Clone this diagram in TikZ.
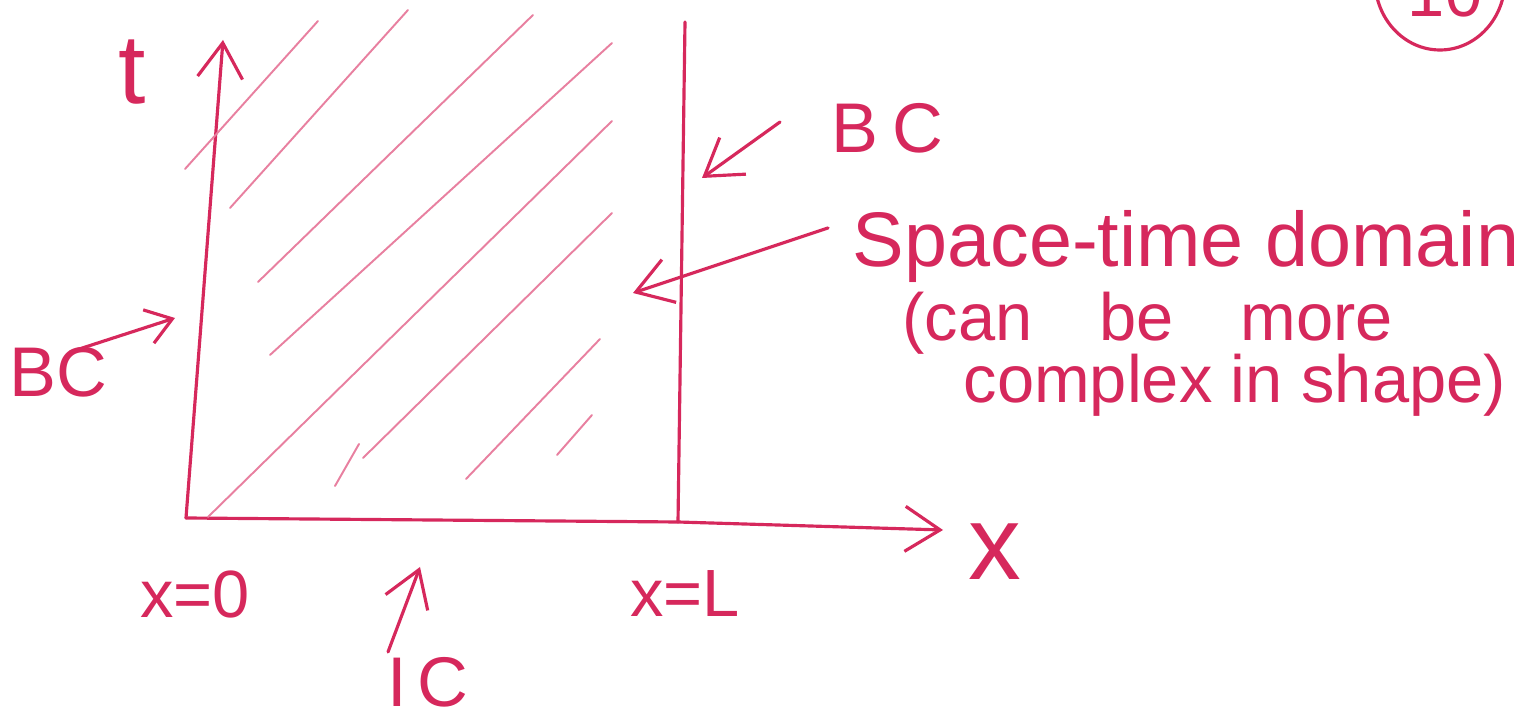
\documentclass[tikz,border=0pt]{standalone}
\usepackage{fontspec}
\setmainfont{Liberation Sans}
\usetikzlibrary{arrows.meta, positioning}
\definecolor{InkRed}{RGB}{214, 40, 92}
\definecolor{InkPink}{RGB}{232, 128, 160}

\begin{document}
\begin{tikzpicture}[x=0.01cm,y=-0.01cm,
	ink/.style={draw=InkRed,line width=0.9pt,line cap=round},
	hatch/.style={draw=InkPink,line width=0.55pt,line cap=round},
	barb/.style={-{Straight Barb[length=3.5mm,width=4.5mm]}},
	lbl/.style={text=InkRed,inner sep=0pt,font=\fontsize{19}{21}\selectfont},
	note/.style={lbl,anchor=base west}]
\useasboundingbox (0,0) rectangle (1536,722);
% axes and boundaries
\coordinate (O) at (186,518);
\coordinate (T) at (223,40);
\coordinate (X) at (943,530);
\coordinate (Ltop) at (685,22);
\coordinate (Lbot) at (678,522);
\draw[ink,barb] (O) -- (Lbot) -- (X);
\draw[ink,barb] (O) -- (T);
\draw[ink] (Ltop) -- (Lbot);
% hatching of the domain
\foreach \xa/\ya/\xb/\yb in {185/169/318/21,230/208/408/10,258/282/533/15,
	270/355/612/43,208/517/612/121,335/486/359/444,363/458/612/213,
	466/479/600/339,557/455/592/415}
	\draw[hatch] (\xa,\ya) -- (\xb,\yb);
% labels
\node[lbl,font=\fontsize{28}{30}\selectfont] (tlab) at (132,72) {t};
\node[lbl,font=\fontsize{30}{32}\selectfont] (xlab) at (995,552) {x};
\node[lbl] (x0) at (195,595) {x=0};
\node[lbl] (xL) at (685,594) {x=L};
\node[lbl,font=\fontsize{20}{22}\selectfont] (ic) at (428,682) {I\kern3pt C};
\node[lbl,font=\fontsize{20}{22}\selectfont] (bcL) at (58,372) {BC};
\node[lbl,font=\fontsize{20}{22}\selectfont] (bcR) at (887,128) {B\kern4pt C};
\node[note,font=\fontsize{22}{24}\selectfont] (dom1) at (852,267) {Space-time domain};
\node[note] (dom2) at (902,341) {(can\quad be\quad more};
\node[note] (dom3) at (963,403) {complex in shape)};
% pointers
\coordinate (bcLtail) at (70,352);
\coordinate (bcLtip) at (175,318);
\coordinate (bcRtail) at (780,122);
\coordinate (bcRtip) at (702,178);
\coordinate (domtail) at (828,228);
\coordinate (domtip) at (633,293);
\coordinate (ictail) at (388,652);
\coordinate (ictip) at (420,567);
\draw[ink,-{Straight Barb[length=2.5mm,width=3.5mm]}] (bcLtail) -- (bcLtip);
\draw[ink,barb] (bcRtail) -- (bcRtip);
\draw[ink,barb] (domtail) -- (domtip);
\draw[ink,barb] (ictail) -- (ictip);
% page number
\draw[ink] (1440,-20) ellipse [x radius=65,y radius=70];
\node[lbl] (page) at (1445,-6) {10};
\end{tikzpicture}
\end{document}
